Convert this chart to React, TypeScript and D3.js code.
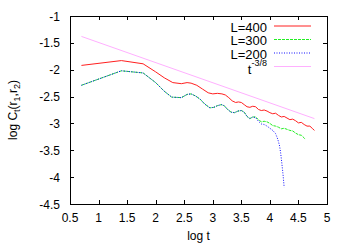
import React, { useEffect, useRef } from 'react';
import * as d3 from 'd3';

// log t vs log C_t(r1,r2) for three system sizes, plus a t^-3/8 guide line
const xTicks = [0.5, 1, 1.5, 2, 2.5, 3, 3.5, 4, 4.5, 5];
const yTicks = [-1, -1.5, -2, -2.5, -3, -3.5, -4, -4.5];

const logT400 = [0.70, 1.40, 1.78, 2.00, 2.15, 2.30, 2.45, 2.55, 2.62, 2.72, 2.82, 2.92, 3.00, 3.08, 3.16, 3.22, 3.28, 3.34, 3.40, 3.45, 3.50, 3.55, 3.60, 3.65, 3.70, 3.75, 3.80, 3.85, 3.90, 3.95, 4.00, 4.05, 4.10, 4.15, 4.20, 4.25, 4.30, 4.35, 4.40, 4.45, 4.50, 4.55, 4.60, 4.65, 4.70, 4.75, 4.78];
const logC400 = [-1.92, -1.83, -1.89, -2.04, -2.15, -2.24, -2.26, -2.24, -2.25, -2.29, -2.36, -2.43, -2.45, -2.44, -2.45, -2.47, -2.52, -2.58, -2.61, -2.60, -2.61, -2.65, -2.69, -2.70, -2.68, -2.69, -2.74, -2.76, -2.75, -2.77, -2.80, -2.82, -2.81, -2.85, -2.88, -2.87, -2.90, -2.93, -2.92, -2.95, -2.99, -2.98, -3.02, -3.05, -3.05, -3.10, -3.13];

const logT300 = [0.70, 1.40, 1.78, 2.00, 2.15, 2.28, 2.45, 2.55, 2.62, 2.70, 2.78, 2.86, 2.95, 3.02, 3.08, 3.15, 3.20, 3.26, 3.32, 3.38, 3.44, 3.50, 3.55, 3.60, 3.65, 3.70, 3.75, 3.80, 3.85, 3.90, 3.95, 4.00, 4.05, 4.10, 4.15, 4.20, 4.25, 4.30, 4.35, 4.40, 4.45, 4.50, 4.55, 4.60, 4.62];
const logC300 = [-2.29, -2.02, -2.06, -2.24, -2.40, -2.51, -2.52, -2.46, -2.45, -2.49, -2.55, -2.64, -2.71, -2.70, -2.67, -2.65, -2.67, -2.74, -2.79, -2.80, -2.77, -2.76, -2.79, -2.87, -2.91, -2.88, -2.88, -2.93, -2.97, -2.96, -2.97, -3.00, -3.04, -3.05, -3.07, -3.10, -3.09, -3.11, -3.13, -3.14, -3.18, -3.21, -3.22, -3.27, -3.30];

const logT200 = [0.70, 1.40, 1.78, 2.00, 2.15, 2.28, 2.45, 2.55, 2.62, 2.70, 2.78, 2.86, 2.95, 3.02, 3.08, 3.15, 3.20, 3.26, 3.32, 3.38, 3.44, 3.50, 3.55, 3.60, 3.65, 3.70, 3.75, 3.80, 3.85, 3.90, 3.95, 4.00, 4.05, 4.10, 4.14, 4.17, 4.19, 4.21, 4.23, 4.25];
const logC200 = [-2.29, -2.02, -2.06, -2.24, -2.40, -2.51, -2.52, -2.46, -2.45, -2.49, -2.55, -2.64, -2.71, -2.70, -2.67, -2.65, -2.67, -2.74, -2.79, -2.80, -2.77, -2.76, -2.79, -2.87, -2.91, -2.88, -2.89, -2.96, -3.01, -3.02, -3.05, -3.09, -3.13, -3.19, -3.30, -3.42, -3.56, -3.75, -3.95, -4.19];

const logTGuide = [0.70, 4.78];
const logCGuide = [-1.38, -2.91];

const seriesNames = ['L=400', 'L=300', 'L=200'];

export default function App() {
  const ref = useRef<SVGSVGElement>(null);

  useEffect(() => {
    const width = 350;
    const height = 245;
    const margin = { top: 16, right: 23, bottom: 41, left: 70 };

    const svg = d3.select(ref.current);
    svg.selectAll('*').remove();
    svg.attr('width', width).attr('height', height)
      .style('font-family', '"Liberation Sans", Arial, sans-serif');

    const x = d3.scaleLinear().domain([0.5, 5]).range([margin.left, width - margin.right]);
    const y = d3.scaleLinear().domain([-4.5, -1]).range([height - margin.bottom, margin.top]);

    const line = d3.line<[number, number]>()
      .x(d => x(d[0]))
      .y(d => y(d[1]));

    const series = [
      { name: seriesNames[0], t: logT400, c: logC400, color: '#ff2020', dash: null },
      { name: seriesNames[1], t: logT300, c: logC300, color: '#22ee22', dash: '3,1' },
      { name: seriesNames[2], t: logT200, c: logC200, color: '#1010ff', dash: '1,1.5' },
      { name: 't-3/8', t: logTGuide, c: logCGuide, color: '#ffb0ff', dash: null },
    ];

    // data lines
    series.forEach(s => {
      const pts = s.t.map((v, i) => [v, s.c[i]] as [number, number]);
      svg.append('path')
        .attr('d', line(pts))
        .attr('fill', 'none')
        .attr('stroke', s.color)
        .attr('stroke-width', 1)
        .attr('stroke-dasharray', s.dash);
    });

    const x0 = x.range()[0], x1 = x.range()[1];
    const y0 = y.range()[0], y1 = y.range()[1];
    const tl = 4;

    // ticks, mirrored on all sides
    const g = svg.append('g').attr('stroke', '#000').attr('stroke-width', 1);
    xTicks.forEach(v => {
      const px = Math.round(x(v)) + 0.5;
      g.append('line').attr('x1', px).attr('x2', px).attr('y1', y0).attr('y2', y0 - tl);
      g.append('line').attr('x1', px).attr('x2', px).attr('y1', y1).attr('y2', y1 + tl);
    });
    yTicks.forEach(v => {
      const py = Math.round(y(v)) + 0.5;
      g.append('line').attr('x1', x0).attr('x2', x0 + tl).attr('y1', py).attr('y2', py);
      g.append('line').attr('x1', x1).attr('x2', x1 - tl).attr('y1', py).attr('y2', py);
    });

    svg.append('rect')
      .attr('x', Math.round(x0) + 0.5).attr('y', Math.round(y1) + 0.5)
      .attr('width', Math.round(x1 - x0)).attr('height', Math.round(y0 - y1))
      .attr('fill', 'none').attr('stroke', '#000').attr('stroke-width', 1);

    // tick labels
    svg.append('g').selectAll('text').data(xTicks).enter().append('text')
      .attr('x', d => x(d)).attr('y', y0 + 18)
      .attr('text-anchor', 'middle').attr('font-size', 12)
      .text(d => String(d));
    svg.append('g').selectAll('text').data(yTicks).enter().append('text')
      .attr('x', x0 - 10).attr('y', d => y(d) + 4.5)
      .attr('text-anchor', 'end').attr('font-size', 12)
      .text(d => String(d));

    // axis titles
    svg.append('text')
      .attr('x', (x0 + x1) / 2).attr('y', 240)
      .attr('text-anchor', 'middle').attr('font-size', 12)
      .text('log t');

    const yl = svg.append('text')
      .attr('transform', `translate(17,${(y0 + y1) / 2}) rotate(-90)`)
      .attr('text-anchor', 'middle').attr('font-size', 12);
    yl.append('tspan').text('log C');
    yl.append('tspan').attr('font-size', 9).attr('dy', 3).text('t');
    yl.append('tspan').attr('dy', -3).text('(r');
    yl.append('tspan').attr('font-size', 9).attr('dy', 3).text('1');
    yl.append('tspan').attr('dy', -3).text(',r');
    yl.append('tspan').attr('font-size', 9).attr('dy', 3).text('2');
    yl.append('tspan').attr('dy', -3).text(')');

    // legend
    const lx = 267;
    const rowY = [26, 39.5, 53, 66.5];
    series.forEach((s, i) => {
      svg.append('line')
        .attr('x1', 274).attr('x2', 311)
        .attr('y1', rowY[i]).attr('y2', rowY[i])
        .attr('stroke', s.color).attr('stroke-width', 1)
        .attr('stroke-dasharray', s.dash);
      if (i < 3) {
        svg.append('text')
          .attr('x', lx).attr('y', rowY[i] + 5.5)
          .attr('text-anchor', 'end').attr('font-size', 13)
          .text(s.name);
      } else {
        const t = svg.append('text')
          .attr('x', lx).attr('y', rowY[i] + 7)
          .attr('text-anchor', 'end').attr('font-size', 13);
        t.append('tspan').text('t');
        t.append('tspan').attr('font-size', 9).attr('dy', -8).text('-3/8');
      }
    });
  }, []);

  return (
    <svg ref={ref} style={{ position: 'absolute', left: 0, top: 0, background: '#fff' }} />
  );
}
